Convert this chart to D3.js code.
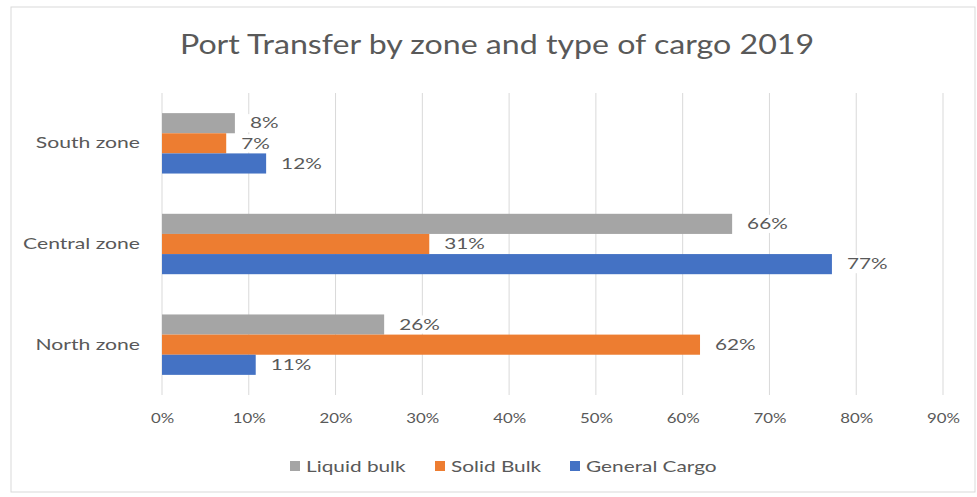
<!DOCTYPE html>
<html>
<head>
<meta charset="utf-8">
<script src="https://cdn.jsdelivr.net/npm/d3@7"></script>
<style>
  body { margin: 0; background: #fff; }
  text { font-family: Lato, "Open Sans", sans-serif; fill: #595959; }
</style>
</head>
<body>
<svg id="chart"></svg>
<script>
// Chart data
const zones = ["South zone", "Central zone", "North zone"];
const seriesNames = ["Liquid bulk", "Solid Bulk", "General Cargo"];
const seriesColors = ["#a5a5a5", "#ed7d31", "#4472c4"];
const liquidBulk = [8.4, 65.7, 25.6];
const solidBulk = [7.4, 30.8, 62.0];
const generalCargo = [12.0, 77.2, 10.8];
const xTicks = [0, 10, 20, 30, 40, 50, 60, 70, 80, 90];

const width = 977, height = 497;
const margin = { top: 93, right: 34, bottom: 102, left: 162 };

const svg = d3.select("#chart")
    .attr("width", width)
    .attr("height", height);

// the original text looks a bit wide, so stretch glyphs a little
function stretch(sel, factor) {
    sel.each(function() {
        const len = this.getComputedTextLength();
        d3.select(this)
            .attr("textLength", len * factor)
            .attr("lengthAdjust", "spacingAndGlyphs");
    });
}

// chart border
svg.append("rect")
    .attr("x", 11).attr("y", 7)
    .attr("width", width - 13).attr("height", height - 12)
    .attr("fill", "none")
    .attr("stroke", "#d9d9d9");

// title
svg.append("text")
    .attr("x", 497).attr("y", 54)
    .attr("text-anchor", "middle")
    .style("font-size", "27px")
    .text("Port Transfer by zone and type of cargo 2019")
    .call(stretch, 1.19);

const x = d3.scaleLinear()
    .domain([0, 90])
    .range([margin.left, width - margin.right]);

const y = d3.scaleBand()
    .domain(zones)
    .range([margin.top, height - margin.bottom])
    .paddingInner(0.4)
    .paddingOuter(0.2);

const ySub = d3.scaleBand()
    .domain(seriesNames)
    .range([0, y.bandwidth()]);

// gridlines
svg.append("g")
    .selectAll("line")
    .data(xTicks)
    .join("line")
    .attr("x1", d => x(d)).attr("x2", d => x(d))
    .attr("y1", margin.top).attr("y2", height - margin.bottom)
    .attr("stroke", "#d9d9d9")
    .attr("stroke-width", 1);

// x axis labels
const xAxis = svg.append("g")
    .attr("transform", `translate(0,${height - margin.bottom})`)
    .call(d3.axisBottom(x).tickValues(xTicks).tickFormat(d => d + "%").tickSize(0).tickPadding(18));
xAxis.select(".domain").remove();
xAxis.selectAll("text")
    .style("font-size", "14px")
    .style("font-family", "Lato, sans-serif")
    .attr("fill", "#595959")
    .call(stretch, 1.2);

// y axis labels
const yAxis = svg.append("g")
    .attr("transform", `translate(${margin.left},0)`)
    .call(d3.axisLeft(y).tickSize(0).tickPadding(22));
yAxis.select(".domain").remove();
yAxis.selectAll("text")
    .style("font-size", "16px")
    .style("font-family", "Lato, sans-serif")
    .attr("fill", "#595959")
    .call(stretch, 1.32);

// rows of data
const rows = zones.map((z, i) => ({
    zone: z,
    values: [liquidBulk[i], solidBulk[i], generalCargo[i]]
}));

const groups = svg.append("g")
    .selectAll("g")
    .data(rows)
    .join("g")
    .attr("transform", d => `translate(0,${y(d.zone)})`);

const bars = groups.selectAll("g.bar")
    .data(d => d.values.map((v, k) => ({ name: seriesNames[k], color: seriesColors[k], value: v })))
    .join("g")
    .attr("class", "bar");

bars.append("rect")
    .attr("x", x(0))
    .attr("y", d => ySub(d.name))
    .attr("width", d => x(d.value) - x(0))
    .attr("height", ySub.bandwidth())
    .attr("fill", d => d.color);

// data labels with white background
bars.append("rect")
    .attr("x", d => x(d.value) + 8)
    .attr("y", d => ySub(d.name) + 1)
    .attr("width", d => (Math.round(d.value) >= 10 ? 50 : 40))
    .attr("height", ySub.bandwidth() - 2)
    .attr("fill", "#fff");

bars.append("text")
    .attr("x", d => x(d.value) + 15)
    .attr("y", d => ySub(d.name) + ySub.bandwidth() / 2)
    .attr("dy", "0.35em")
    .style("font-size", "15px")
    .text(d => Math.round(d.value) + "%")
    .call(stretch, 1.38);

// legend
const legendX = [290, 435, 570];
const legend = svg.append("g")
    .selectAll("g")
    .data(seriesNames)
    .join("g")
    .attr("transform", (d, i) => `translate(${legendX[i]},466)`);

legend.append("rect")
    .attr("x", 0).attr("y", -5)
    .attr("width", 10).attr("height", 10)
    .attr("fill", (d, i) => seriesColors[i]);

legend.append("text")
    .attr("x", 16)
    .attr("dy", "0.35em")
    .style("font-size", "16px")
    .text(d => d)
    .call(stretch, 1.3);
</script>
</body>
</html>
